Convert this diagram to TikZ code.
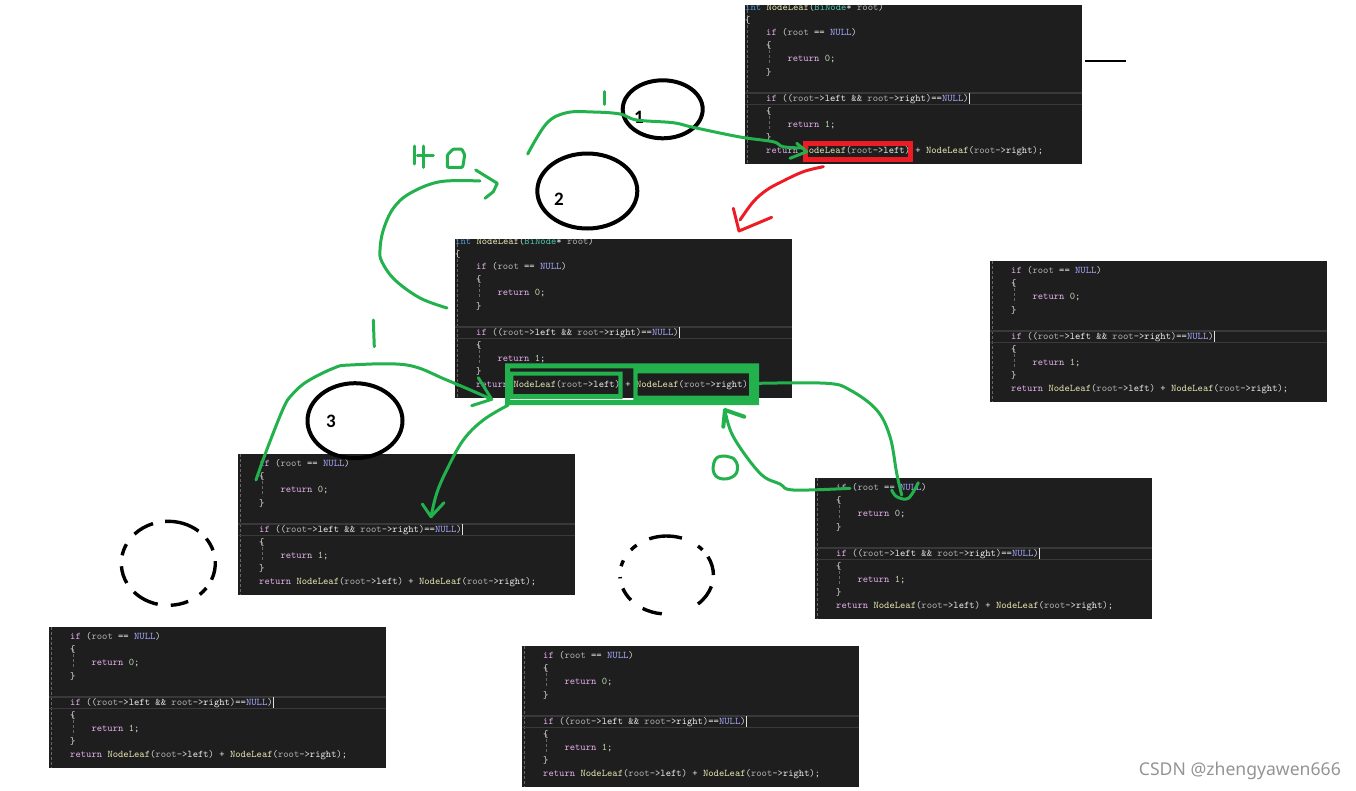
\documentclass[tikz,border=0pt]{standalone}
\usepackage{fontspec}
\newfontfamily\labelfont{Carlito}
\newfontfamily\markfont{Noto Sans}
\usepackage{xcolor}
\usetikzlibrary{positioning, calc, shapes.geometric}

\definecolor{panelbg}{HTML}{1E1E1E}
\definecolor{pengreen}{HTML}{22B14C}
\definecolor{penred}{HTML}{ED1C24}
\definecolor{cdplain}{HTML}{E0E0E0}

\newcommand{\cdkw}[1]{\textcolor[HTML]{E4B0EA}{#1}}
\newcommand{\cdfn}[1]{\textcolor[HTML]{E8E8B4}{#1}}
\newcommand{\cdvar}[1]{\textcolor[HTML]{B0B0B0}{#1}}
\newcommand{\cdmem}[1]{\textcolor[HTML]{F0F0F0}{#1}}
\newcommand{\cdnull}[1]{\textcolor[HTML]{A8AAFF}{#1}}
\newcommand{\cdnum}[1]{\textcolor[HTML]{C0D8B4}{#1}}

\newcommand{\codebody}{%
\cdkw{if} (\cdvar{root} == \cdnull{NULL})\\
\{\\
\hspace*{21.3pt}\cdkw{return} \cdnum{0};\\
\}\\
\mbox{}\\
\cdkw{if} ((\cdvar{root}->\cdmem{left} \&\& \cdvar{root}->\cdmem{right})==\cdnull{NULL})\\
\{\\
\hspace*{21.3pt}\cdkw{return} \cdnum{1};\\
\}\\
\cdkw{return} \cdfn{NodeLeaf}(\cdvar{root}->\cdmem{left}) + \cdfn{NodeLeaf}(\cdvar{root}->\cdmem{right});}

% one code window: name, left, top, height
\newcommand{\codepanel}[4]{%
  \node[codewin, minimum height=#4pt] (#1) at (#2,#3) {};
  \draw[guide] ([xshift=2pt]#1.north west) -- ([xshift=2pt]#1.south west);
  \draw[guide] ([shift={(24,-119)}]#1.south west) -- ([shift={(24,-99)}]#1.south west);
  \draw[guide] ([shift={(24,-53)}]#1.south west) -- ([shift={(24,-33)}]#1.south west);
  \draw[linebar] ([yshift=71.3pt]#1.south west) -- ([yshift=71.3pt]#1.south east);
  \draw[linebar] ([yshift=60pt]#1.south west) -- ([yshift=60pt]#1.south east);
  \draw[cdplain, line width=0.6pt] ([shift={(224,-71)}]#1.south west) -- ([shift={(224,-60)}]#1.south west);
  \node[codetext] (#1code) at ([shift={(21,-136)}]#1.south west) {\codebody};
}
% the signature line that the two upper windows show, cut by their top edge
\newcommand{\codehead}[1]{%
  \begin{scope}
    \clip (#1.north west) rectangle (#1.south east);
    \node[codetext] (#1head) at ([shift={(0,-1.5)}]#1.north west) {\textcolor[HTML]{569CD6}{int} \cdfn{NodeLeaf}(\textcolor[HTML]{4EC9B0}{BiNode}* \cdvar{root})\\\{};
  \end{scope}
}

\begin{document}
\begin{tikzpicture}[
    x=1pt, y=-1pt,
    codewin/.style={rectangle, fill=panelbg, anchor=north west, inner sep=0pt, minimum width=337pt},
    codetext/.style={anchor=north west, inner sep=0pt, align=left, text=cdplain, font=\fontsize{10.15}{13.12}\selectfont\ttfamily},
    guide/.style={densely dashed, line width=0.5pt, color=black!60},
    linebar/.style={line width=1.3pt, color=black!25!panelbg!85!white},
    greenpen/.style={color=pengreen, line width=3pt, line cap=round, line join=round},
    redpen/.style={color=penred, line width=3pt, line cap=round, line join=round},
    ring/.style={ellipse, draw=black, line width=4pt, inner sep=0pt},
    brush/.style={line width=3.4pt, color=black},
    tag/.style={font=\labelfont\bfseries\fontsize{19}{19}\selectfont, inner sep=0pt}
]
\useasboundingbox (0,0) rectangle (1356,790);

% Code windows
\codepanel{callone}{745}{5}{159}
\codepanel{calltwo}{455}{239}{159}
\codepanel{spare}{990}{261}{141}
\codepanel{callthree}{238}{454}{141}
\codepanel{rightcall}{815}{478}{141}
\codepanel{leafleft}{49}{627}{141}
\codepanel{leafright}{522}{646}{141}
\codehead{callone}
\codehead{calltwo}

% Boxes round the recursive calls
\node[rectangle, draw=penred, line width=4.5pt, minimum width=105pt, minimum height=16.4pt, inner sep=0pt] (redbox) at (858.2,151.5) {};
\fill[pengreen, even odd rule] (505,363.3) rectangle (759,405)
    (637.7,373.3) rectangle (749,395.7)
    (510,368.3) rectangle (633.3,400)
    (510,371.7) rectangle (622.7,399)
    (513.3,375.7) rectangle (618.3,394);

% Black rings and their numbers
\node[ring, minimum width=80pt, minimum height=58pt] (ringone) at (662.7,109.3) {};
\node[ring, minimum width=100pt, minimum height=75pt] (ringtwo) at (587.3,191) {};
\node[ring, minimum width=95pt, minimum height=75pt] (ringthree) at (355,420.7) {};
\node[tag] (numone) at (639,117) {1};
\node[tag] (numtwo) at (559,199) {2};
\node[tag] (numthree) at (331,421) {3};

% Broken rings
\coordinate (leafringl) at (168.3,563.3);
\coordinate (leafringr) at (666.7,575);
\foreach \a/\b in {109/136, 50/94, 18/36, -23/3, -48/-36, -87/-65, -137/-103, 184/208, 153/169}
  \draw[brush] ([shift={(\a:47pt and 42pt)}]leafringl) arc[start angle=\a, end angle=\b, x radius=47pt, y radius=42pt];
\foreach \a/\b in {71/112, 40/48, 0/28, -48/-17, -121/-96, -160/-140, 158/167, 130/140, 183/185}
  \draw[brush] ([shift={(\a:46.7pt and 39pt)}]leafringr) arc[start angle=\a, end angle=\b, x radius=46.7pt, y radius=39pt];

% Short black rule
\coordinate (rulea) at (1085,61);
\coordinate (ruleb) at (1126,61);
\draw[black, line width=1.5pt] (rulea) -- (ruleb);

% Pen strokes: return of the first call
\coordinate (strokeonea) at (527.7,154);
\coordinate (strokeoneb) at (803,148);
\draw[greenpen] plot[smooth, tension=0.6] coordinates {(strokeonea) (546.7,123.3) (566.7,112.7) (593.3,112) (620,114) (636.7,120) (673,122.7) (693,127.3) (740,137) (773,141.7) (783,146.7) (strokeoneb)};
\draw[greenpen] (796.7,143.3) -- (806.7,151.7) -- (790,158.3);
\coordinate (tickonea) at (604.3,91.7);
\coordinate (tickoneb) at (604.3,104.3);
\draw[greenpen] (tickonea) -- (tickoneb);

% Red descent
\coordinate (reda) at (823.3,166.7);
\coordinate (redb) at (739,231);
\draw[redpen] plot[smooth, tension=0.6] coordinates {(reda) (803.3,171.7) (781.7,181.7) (766.7,190) (753.3,201.7) (740,220)};
\draw[redpen] (733.3,208.3) -- (redb) -- (771.7,217.3);

% Pen strokes: return from window two
\coordinate (strokelefta) at (447,308);
\coordinate (strokeleftb) at (480,181);
\draw[greenpen] plot[smooth, tension=0.6] coordinates {(strokelefta) (420,298) (395,280) (382,262) (380,250) (383.3,230) (393.3,208.3) (410,193.3) (440,181.7) (strokeleftb)};
\draw[greenpen] (475.7,170) -- (497.3,183.3) -- (493.3,191.7) -- (485,198.3);
\draw[greenpen] (414.3,146) -- (414.3,164);
\draw[greenpen] (423.3,146) -- (423.3,167.3);
\draw[greenpen] (417.3,155) -- (433.3,155);
\draw[greenpen, rounded corners=1pt] (447.3,167.3) -- (447.3,155) -- (453.3,149) -- (461.7,149) -- (464.7,155) -- (462.7,167.3) -- cycle;

% Pen strokes: left child
\coordinate (strokeupa) at (256,480);
\coordinate (strokeupb) at (491.7,399.3);
\draw[greenpen] plot[smooth, tension=0.6] coordinates {(strokeupa) (266.7,450) (283.3,408.3) (291.7,395) (306.7,381.7) (333.3,368.3) (350,365) (406.7,365) (446.7,380) (strokeupb)};
\draw[greenpen] (478.3,377.7) -- (strokeupb) -- (471.7,405.7);
\draw[greenpen] (373.3,320) -- (374.3,346.7);
\coordinate (strokedowna) at (508.3,405);
\coordinate (strokedownb) at (431,516.7);
\draw[greenpen] plot[smooth, tension=0.6] coordinates {(strokedowna) (483.3,420) (463.3,440) (446.7,470) (436.7,493.3) (strokedownb)};
\draw[greenpen] (422.3,504) -- (strokedownb) -- (444,502.7);

% Pen strokes: right child
\coordinate (strokerighta) at (759,383.3);
\coordinate (strokerightb) at (901.7,495);
\draw[greenpen] plot[smooth, tension=0.6] coordinates {(strokerighta) (826.7,383.3) (850,390) (876.7,410) (890,436.7) (896.7,473.3) (strokerightb)};
\draw[greenpen] plot[smooth, tension=0.6] coordinates {(891.7,490) (896.7,496.7) (908.3,498.3) (918.3,482.7)};
\coordinate (strokebacka) at (850,488.3);
\coordinate (strokebackb) at (725,410);
\draw[greenpen] plot[smooth, tension=0.6] coordinates {(strokebacka) (793.3,490) (780,484) (760,473.3) (733.3,436.7) (strokebackb)};
\draw[greenpen, line width=4pt] (723.3,426.7) -- (strokebackb) -- (744.3,416.7);
\draw[greenpen] plot[smooth, tension=0.7] coordinates {(733.3,458.3) (723.3,456) (715,460) (714,473.3) (723.3,479) (735,475) (737.3,465) (733.3,458.3)};

% Watermark
\node[font=\markfont\fontsize{17.6}{17.6}\selectfont, text=black!42, inner sep=0pt, anchor=east] (wmark) at (1341,771) {CSDN @zhengyawen666};

\end{tikzpicture}
\end{document}
